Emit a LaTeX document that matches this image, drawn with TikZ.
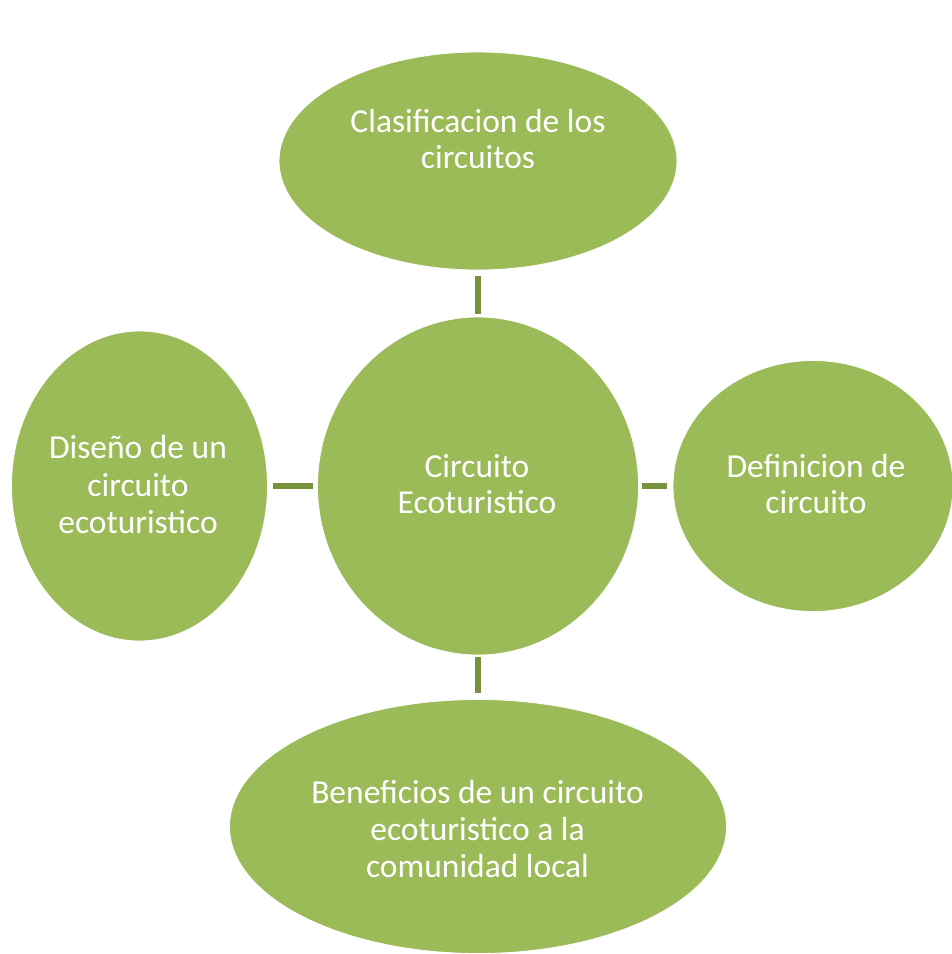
\documentclass[tikz,border=0pt]{standalone}
\usepackage{fontspec}
\setmainfont{Carlito}
\usetikzlibrary{shapes.geometric}
\definecolor{bubble}{HTML}{9BBB59}
\definecolor{linkgreen}{HTML}{76923C}
\begin{document}
\begin{tikzpicture}[x=1pt,y=-1pt,
  bubblebox/.style={ellipse,fill=bubble,draw=white,line width=0.8pt,inner sep=0pt},
  txt/.style={text=white,font=\fontsize{33.5}{36}\selectfont,anchor=base,inner sep=0pt},
  link/.style={draw=linkgreen,line width=5.5pt}]
\useasboundingbox (0,0) rectangle (952,954);
\fill[white] (0,0) rectangle (952,954);
% bubbles
\node[bubblebox,minimum width=398pt,minimum height=218pt] (top) at (478,161) {};
\node[bubblebox,minimum width=321pt,minimum height=338pt] (ctr) at (478,486) {};
\node[bubblebox,minimum width=256pt,minimum height=310pt] (lft) at (139.5,486) {};
\node[bubblebox,minimum width=280pt,minimum height=251pt] (rgt) at (813,486) {};
\node[bubblebox,minimum width=497pt,minimum height=254pt] (bot) at (478,826.5) {};
% connectors
\draw[link,shorten <=3pt,shorten >=6pt] (ctr.north) -- (top.south);
\draw[link,shorten <=4pt,shorten >=5pt] (ctr.west) -- (lft.east);
\draw[link,shorten <=3pt,shorten >=6pt] (ctr.east) -- (rgt.west);
\draw[link,shorten <=2pt,shorten >=6pt] (ctr.south) -- (bot.north);
% texts
\node[txt] (t1) at (478,132) {Clasificacion de los};
\node[txt] (t2) at (478,168) {circuitos};
\node[txt] (c1) at (477,477) {Circuito};
\node[txt] (c2) at (477,513) {Ecoturistico};
\node[txt] (l1) at (138,458) {Diseño de un};
\node[txt] (l2) at (138,496) {circuito};
\node[txt] (l3) at (138,533) {ecoturistico};
\node[txt] (r1) at (816,477) {Definicion de};
\node[txt] (r2) at (816,513) {circuito};
\node[txt] (b1) at (477.5,803) {Beneficios de un circuito};
\node[txt] (b2) at (477.5,840) {ecoturistico a la};
\node[txt] (b3) at (477.5,877) {comunidad local};
\end{tikzpicture}
\end{document}
